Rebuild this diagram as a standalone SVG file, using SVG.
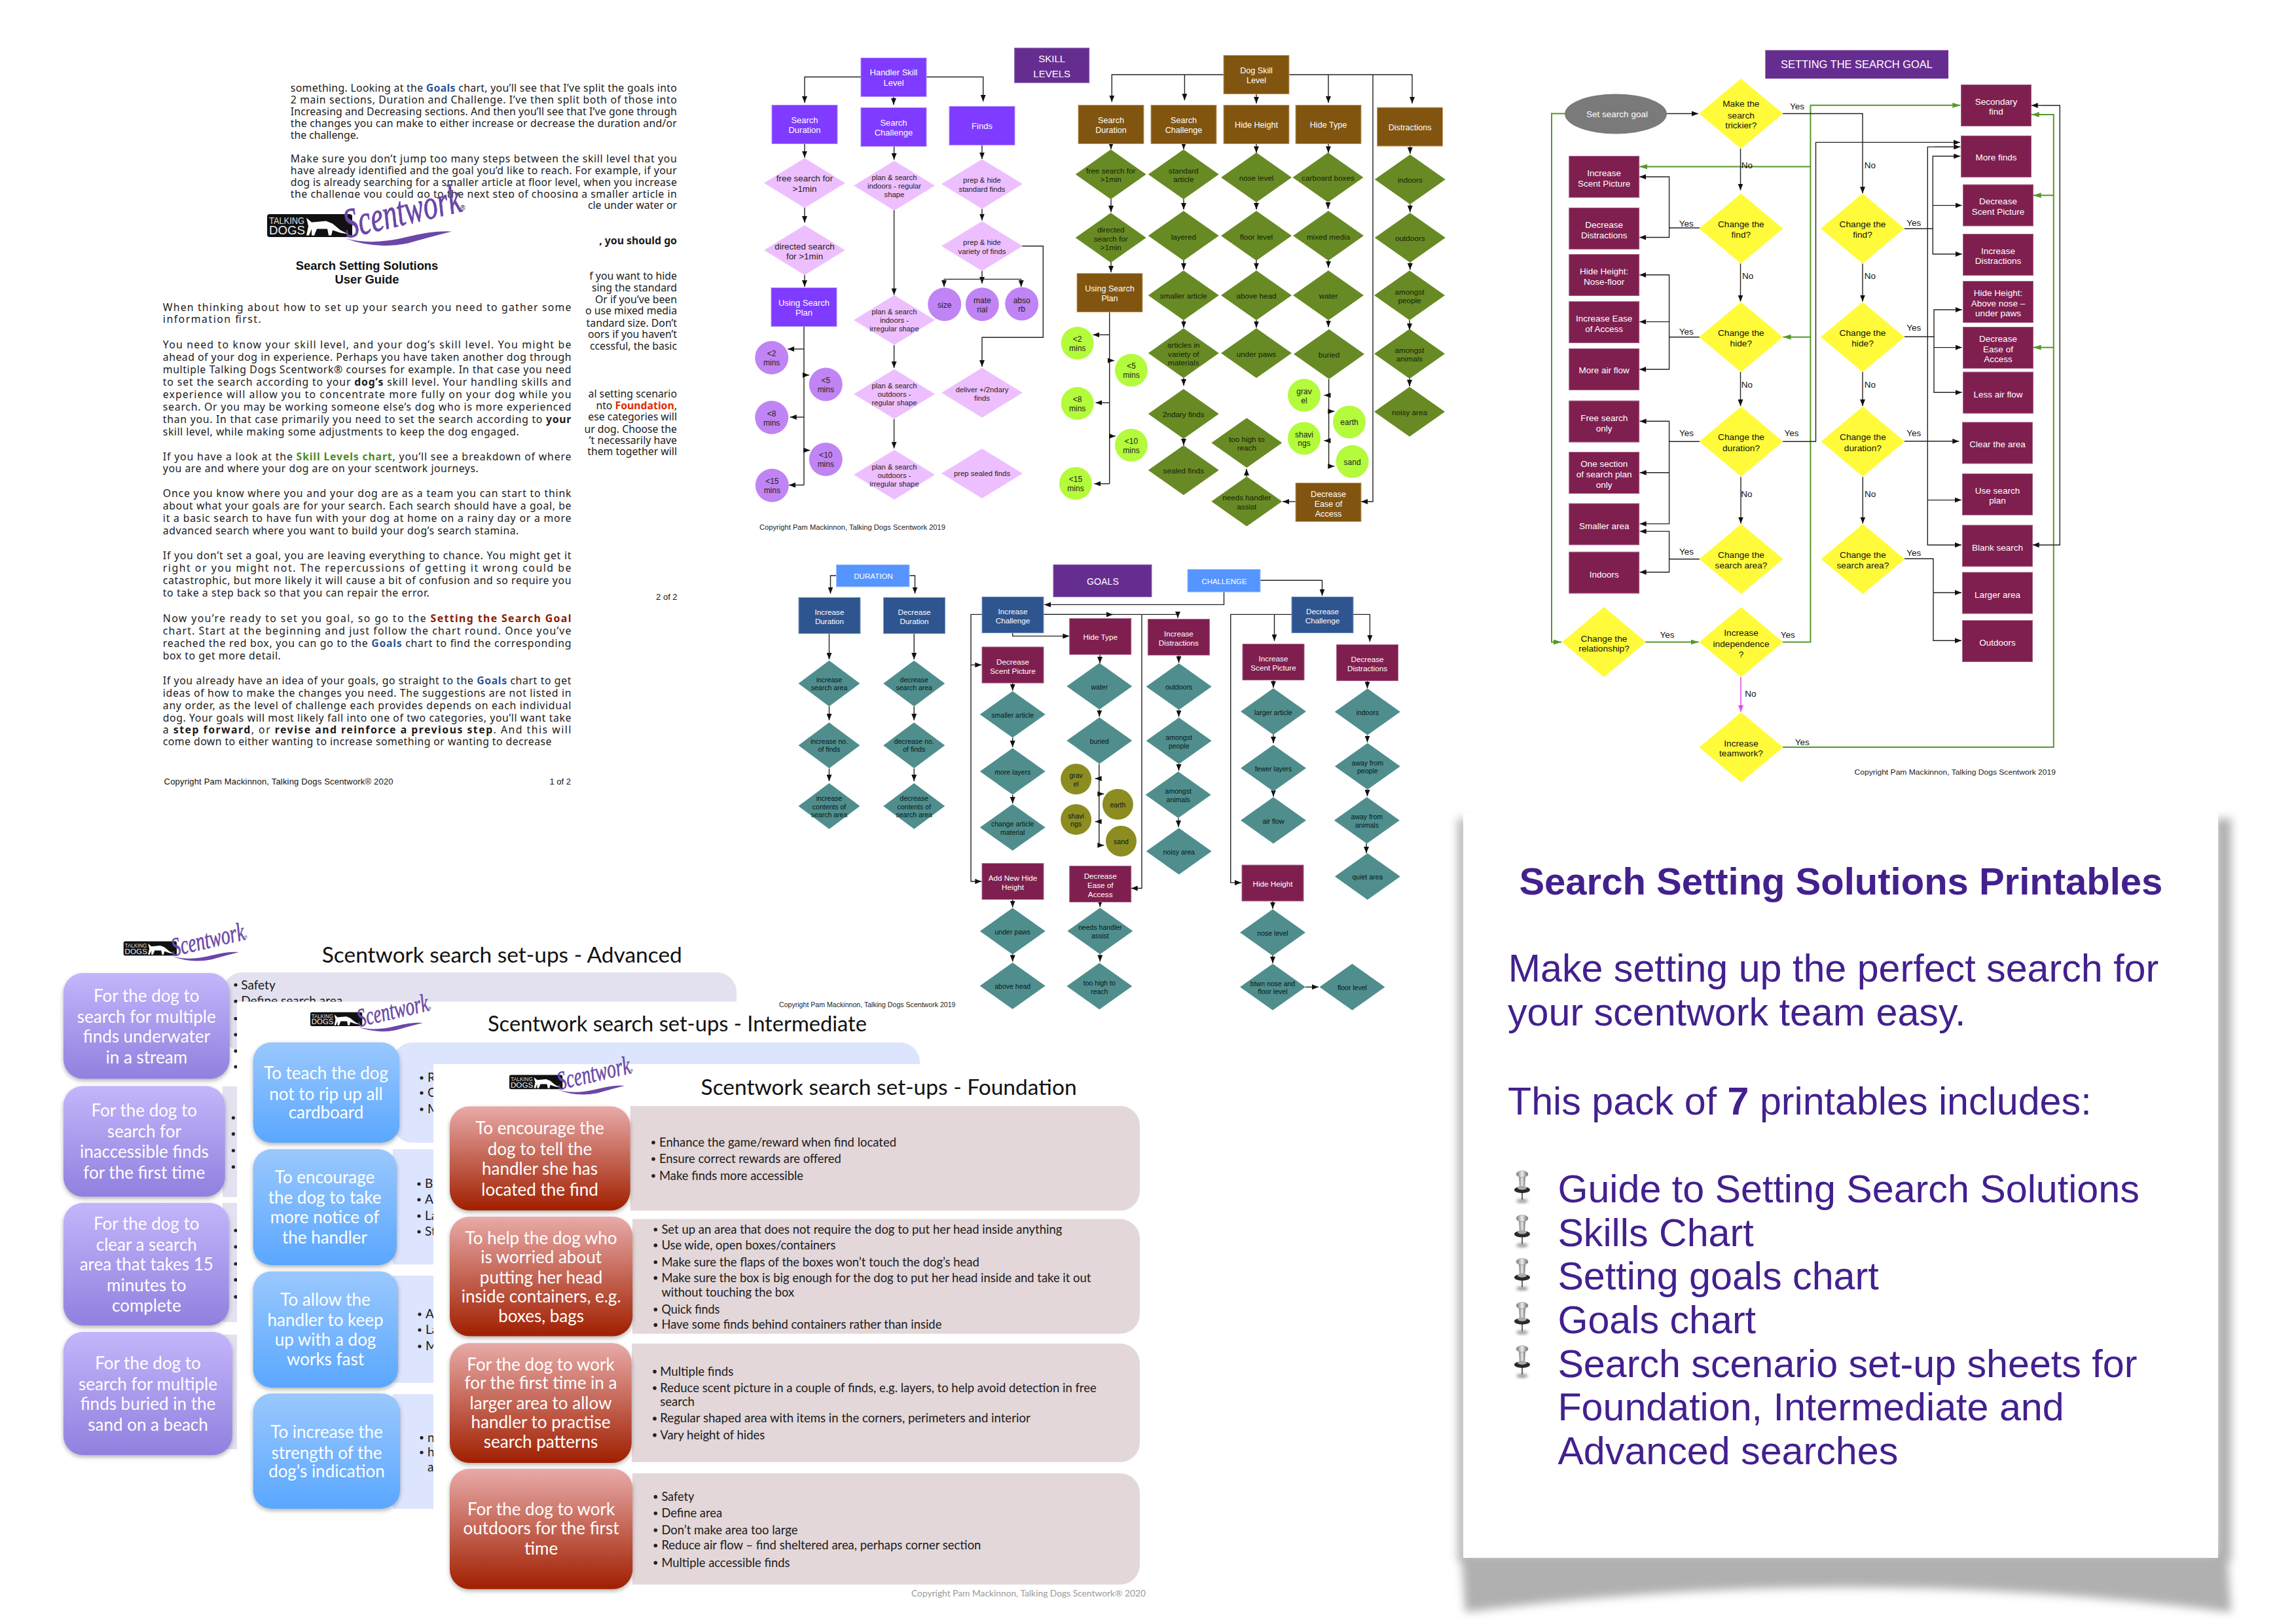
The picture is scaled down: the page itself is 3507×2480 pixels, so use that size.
<svg xmlns="http://www.w3.org/2000/svg" width="3507" height="2480" viewBox="0 0 3507 2480">
<style>
text{font-family:"Liberation Sans",Arial,sans-serif;text-anchor:middle;fill:#111}
.u{font-family:"Noto Sans","Liberation Sans",sans-serif;font-size:15.8px;text-anchor:start;fill:#1a1a1a}
.e{text-anchor:end}
.b{font-weight:700}
.w13{font-size:13px;fill:#fff}
.w12{font-size:12.6px;fill:#fff}
.d13{font-size:13.4px;fill:#222}
.d11{font-size:11.3px;fill:#222}
.d12{font-size:11.7px;fill:#141f08}
.ch{font-size:12px;fill:#222}
.w14{font-size:13.5px;fill:#fff}
.y14{font-size:13.7px;fill:#111}
.lb{font-size:13.5px;fill:#111}
.w11{font-size:11.7px;fill:#fff}
.t10{font-size:10.5px;fill:#061818}
.cp{font-size:11px;fill:#222}
.c{fill:none;stroke:#222;stroke-width:1.4}
.g{fill:none;stroke:#55982a;stroke-width:2}
.ca{font-family:Lato,"Liberation Sans",sans-serif}
.st{font-size:32px;fill:#111}
.pl{font-size:26px;fill:#fff}
.bl{font-size:19px;text-anchor:start;fill:#1a1a1a}
.pr{font-size:59.2px;text-anchor:start;fill:#43208e}
</style>
<defs>
<marker id="a" markerUnits="userSpaceOnUse" viewBox="0 0 10 8" markerWidth="10" markerHeight="8" refX="10" refY="4" orient="auto"><path d="M0 0L10 4L0 8Z" fill="#111"/></marker>
<marker id="ag" markerUnits="userSpaceOnUse" viewBox="0 0 12 8" markerWidth="12" markerHeight="8" refX="12" refY="4" orient="auto"><path d="M0 0L12 4L0 8Z" fill="#55982a"/></marker>
<marker id="am" markerUnits="userSpaceOnUse" viewBox="0 0 10 8" markerWidth="10" markerHeight="8" refX="10" refY="4" orient="auto"><path d="M0 0L10 4L0 8Z" fill="#e04cf0"/></marker>
<rect id="rH" x="-50" y="-29.5" width="100" height="59" fill="#7f3bff" stroke="#a98cf5"/>
<path id="dH" d="M-62 0L0-38L62 0L0 38Z" fill="#eebfff"/>
<circle id="cH" r="25.5" fill="#c084f5"/>
<rect id="rD" x="-50" y="-29.5" width="100" height="59" fill="#815510" stroke="#c9a06a"/>
<path id="dD" d="M-54 0L0-38L54 0L0 38Z" fill="#688a24"/>
<circle id="cD" r="25" fill="#b3fb3b"/>
<rect id="rG" x="-53.5" y="-31.5" width="107" height="63" fill="#7f1f50" stroke="#a8668a"/>
<path id="dG" d="M-64 0L0-53.5L64 0L0 53.5Z" fill="#fffb3a"/>
<rect id="rB" x="-47" y="-27.5" width="94" height="55" fill="#2f5590" stroke="#7f9bc8"/>
<rect id="rM" x="-47" y="-27.5" width="94" height="55" fill="#7f1f50" stroke="#a8668a"/>
<path id="dT" d="M-50 0L0-35.5L50 0L0 35.5Z" fill="#508e8e"/>
<path id="dT2" d="M-47 0L0-35L47 0L0 35Z" fill="#508e8e"/>
<circle id="cO" r="23.5" fill="#8d8c20"/>
<linearGradient id="gP" x1="0" y1="0" x2="0" y2="1"><stop offset="0" stop-color="#c4b5fb"/><stop offset="1" stop-color="#9180de"/></linearGradient>
<linearGradient id="gB" x1="0" y1="0" x2="0" y2="1"><stop offset="0" stop-color="#9ac8fd"/><stop offset="1" stop-color="#5aa7ff"/></linearGradient>
<linearGradient id="gR" x1="0" y1="0" x2="0" y2="1"><stop offset="0" stop-color="#e8aaa8"/><stop offset="1" stop-color="#a01f00"/></linearGradient>
<linearGradient id="gPin" x1="0" y1="0" x2="1" y2="0"><stop offset="0" stop-color="#777"/><stop offset=".5" stop-color="#eee"/><stop offset="1" stop-color="#666"/></linearGradient>
<filter id="sh" x="-10%" y="-10%" width="120%" height="125%"><feDropShadow dx="0" dy="3" stdDeviation="3" flood-color="#000" flood-opacity=".3"/></filter>
<filter id="bl" x="-20%" y="-20%" width="140%" height="140%"><feGaussianBlur stdDeviation="7"/></filter>
<filter id="bs" x="-50%" y="-50%" width="200%" height="200%"><feGaussianBlur stdDeviation="2"/></filter>
<g id="logo">
<rect x="0" y="21.4" width="130" height="35" rx="4" fill="#111"/>
<text x="3" y="36" font-size="14" textLength="54" lengthAdjust="spacingAndGlyphs" style="text-anchor:start;fill:#ddd">TALKING</text>
<text x="3" y="52" font-size="18" textLength="55" lengthAdjust="spacingAndGlyphs" style="text-anchor:start;fill:#eee">DOGS</text>
<path d="M60 27L68 34L90 32L100 36L112 46L124 52L112 50L100 46L98 54L94 54L92 44L76 44L72 54L68 54L68 44L64 54L60 54L63 40Z" fill="#fff"/>
<text transform="translate(122,58) rotate(-13)" font-size="64" textLength="182" lengthAdjust="spacingAndGlyphs" style="font-family:'Liberation Serif',serif;font-style:italic;text-anchor:start;fill:#6b47a8;stroke:#6b47a8;stroke-width:.9">Scentwork</text>
<path d="M118 58Q160 70 215 56Q255 46 282 48Q250 56 215 66Q165 76 118 58Z" fill="#6b47a8"/>
<text x="299" y="15" font-size="10" fill="#777">®</text>
</g>
<g id="pin">
<ellipse cx="0" cy="26" rx="9" ry="3" fill="#999" filter="url(#bs)"/>
<path d="M0 12V24" stroke="#444" stroke-width="1.6"/>
<path d="M-5 -14H5L4 6H-4Z" fill="url(#gPin)"/>
<ellipse cx="0" cy="-15" rx="9" ry="5" fill="url(#gPin)" stroke="#888" stroke-width=".6"/>
<ellipse cx="0" cy="9" rx="12" ry="5" fill="#2a2a2a"/>
<ellipse cx="0" cy="6" rx="7" ry="3" fill="#aaa"/>
</g>
</defs>
<rect width="3507" height="2480" fill="#fff"/>

<g id="guide-page-2">
<text class="u" x="443.8" y="139.5" textLength="590">something. Looking at the <tspan class="b" style="fill:#2f5597">Goals</tspan> chart, you’ll see that I’ve split the goals into</text>
<text class="u" x="443.8" y="157.7" textLength="590">2 main sections, Duration and Challenge. I’ve then split both of those into</text>
<text class="u" x="443.8" y="175.5" textLength="590">Increasing and Decreasing sections. And then you’ll see that I’ve gone through</text>
<text class="u" x="443.8" y="193.7" textLength="590">the changes you can make to either increase or decrease the duration and/or</text>
<text class="u" x="443.8" y="211.5" textLength="104">the challenge.</text>
<text class="u" x="443.8" y="247.5" textLength="590">Make sure you don’t jump too many steps between the skill level that you</text>
<text class="u" x="443.8" y="265.7" textLength="590">have already identified and the goal you’d like to reach. For example, if your</text>
<text class="u" x="443.8" y="283.5" textLength="590">dog is already searching for a smaller article at floor level, when you increase</text>
<text class="u" x="443.8" y="301.6" textLength="590">the challenge you could go to the next step of choosing a smaller article in</text>
<text class="u e" x="1034" y="319.4">cle under water or</text>
<text class="u e b" x="1034" y="372.8">, you should go</text>
<text class="u e" x="1034" y="426.6">f you want to hide</text>
<text class="u e" x="1034" y="444.8">sing the standard</text>
<text class="u e" x="1034" y="462.6">Or if you’ve been</text>
<text class="u e" x="1034" y="480.4">o use mixed media</text>
<text class="u e" x="1034" y="498.6">tandard size. Don’t</text>
<text class="u e" x="1034" y="516.4">oors if you haven’t</text>
<text class="u e" x="1034" y="534.4">ccessful, the basic</text>
<text class="u e" x="1034" y="606.8">al setting scenario</text>
<text class="u e" x="1034" y="624.6">nto  <tspan class="b" style="fill:#e02b00">Foundation</tspan>,</text>
<text class="u e" x="1034" y="642.4">ese categories will</text>
<text class="u e" x="1034" y="660.6">ur dog. Choose the</text>
<text class="u e" x="1034" y="677.6">’t necessarily have</text>
<text class="u e" x="1034" y="695.4">them together will</text>
<text x="1034.6" y="916" font-size="13" class="e">2 of 2</text>
</g>
<g id="guide-page-1">
<rect x="240" y="302" width="653" height="930" fill="#fff"/>
<use href="#logo" transform="translate(408,305.6)"/>
<text class="b" x="560.5" y="412" font-size="18.4">Search Setting Solutions</text>
<text class="b" x="560.5" y="433" font-size="18.4">User Guide</text>
<text class="u" x="248.8" y="475" textLength="623.6">When thinking about how to set up your search you need to gather some</text>
<text class="u" x="248.8" y="493" textLength="150">information first.</text>
<text class="u" x="248.8" y="532.2" textLength="623.6">You need to know your skill level, and your dog’s skill level. You might be</text>
<text class="u" x="248.8" y="551" textLength="623.6">ahead of your dog in experience. Perhaps you have taken another dog through</text>
<text class="u" x="248.8" y="570" textLength="623.6">multiple Talking Dogs Scentwork® courses for example. In that case you need</text>
<text class="u" x="248.8" y="589" textLength="623.6">to set the search according to your <tspan class="b">dog’s</tspan> skill level. Your handling skills and</text>
<text class="u" x="248.8" y="608" textLength="623.6">experience will allow you to concentrate more fully on your dog while you</text>
<text class="u" x="248.8" y="627" textLength="623.6">search. Or you may be working someone else’s dog who is more experienced</text>
<text class="u" x="248.8" y="646" textLength="623.6">than you. In that case primarily you need to set the search according to <tspan class="b">your</tspan></text>
<text class="u" x="248.8" y="665" textLength="544">skill level, while making some adjustments to keep the dog engaged.</text>
<text class="u" x="248.8" y="702.5" textLength="623.6">If you have a look at the <tspan class="b" style="fill:#4d8b1f">Skill Levels chart</tspan>, you’ll see a breakdown of where</text>
<text class="u" x="248.8" y="721" textLength="482">you are and where your dog are on your scentwork journeys.</text>
<text class="u" x="248.8" y="759" textLength="623.6">Once you know where you and your dog are as a team you can start to think</text>
<text class="u" x="248.8" y="778" textLength="623.6">about what your goals are for your search. Each search should have a goal, be</text>
<text class="u" x="248.8" y="797" textLength="623.6">it a basic search to have fun with your dog at home on a rainy day or a more</text>
<text class="u" x="248.8" y="816" textLength="543.5">advanced search where you want to build your dog’s search stamina.</text>
<text class="u" x="248.8" y="854" textLength="623.6">If you don’t set a goal, you are leaving everything to chance. You might get it</text>
<text class="u" x="248.8" y="873" textLength="623.6">right or you might not. The repercussions of getting it wrong could be</text>
<text class="u" x="248.8" y="892" textLength="623.6">catastrophic, but more likely it will cause a bit of confusion and so require you</text>
<text class="u" x="248.8" y="911" textLength="407">to take a step back so that you can repair the error.</text>
<text class="u" x="248.8" y="949.7" textLength="623.6">Now you’re ready to set you goal, so go to the <tspan class="b" style="fill:#8b1a00">Setting the Search Goal</tspan></text>
<text class="u" x="248.8" y="968.6" textLength="623.6">chart. Start at the beginning and just follow the chart round. Once you’ve</text>
<text class="u" x="248.8" y="987.6" textLength="623.6">reached the red box, you can go to the <tspan class="b" style="fill:#2f5597">Goals</tspan> chart to find the corresponding</text>
<text class="u" x="248.8" y="1006.6" textLength="180">box to get more detail.</text>
<text class="u" x="248.8" y="1044.7" textLength="623.6">If you already have an idea of your goals, go straight to the <tspan class="b" style="fill:#2f5597">Goals</tspan> chart to get</text>
<text class="u" x="248.8" y="1063.6" textLength="623.6">ideas of how to make the changes you need. The suggestions are not listed in</text>
<text class="u" x="248.8" y="1082.6" textLength="623.6">any order, as the level of challenge each provides depends on each individual</text>
<text class="u" x="248.8" y="1101.5" textLength="623.6">dog. Your goals will most likely fall into one of two categories, you’ll want take</text>
<text class="u" x="248.8" y="1119.8" textLength="623.6">a <tspan class="b">step forward</tspan>, or <tspan class="b">revise and reinforce a previous step</tspan>. And this will</text>
<text class="u" x="248.8" y="1138" textLength="593.6">come down to either wanting to increase something or wanting to decrease</text>
<text x="250.6" y="1198" font-size="13" textLength="350" style="text-anchor:start">Copyright Pam Mackinnon, Talking Dogs Scentwork® 2020</text>
<text x="872" y="1198" font-size="13" class="e">1 of 2</text>
</g>

<g id="sheet-advanced">
<use href="#logo" transform="translate(188.7,1424) scale(.625)"/>
<text class="ca st" x="766.8" y="1470" textLength="550" lengthAdjust="spacingAndGlyphs">Scentwork search set-ups - Advanced</text>
<rect x="340" y="1485" width="785" height="120" rx="30" fill="#e3e1ef"/>
<rect x="340" y="1659" width="22" height="169" fill="#e3e1ef"/>
<rect x="340" y="1837" width="22" height="182" fill="#e3e1ef"/>
<rect x="340" y="2038" width="22" height="175" fill="#e3e1ef"/>
<text class="ca bl" x="368.3" y="1511">Safety</text>
<circle cx="360" cy="1504" r="2.6" fill="#222"/>
<text class="ca bl" x="368.3" y="1535">Define search area</text>
<circle cx="360" cy="1529" r="2.6" fill="#222"/>
<g fill="#222"><circle cx="360" cy="1555.5" r="2.6"/><circle cx="360" cy="1580" r="2.6"/><circle cx="360" cy="1605" r="2.6"/><circle cx="360" cy="1629" r="2.6"/><circle cx="356.4" cy="1707" r="2.6"/><circle cx="356.4" cy="1731.7" r="2.6"/><circle cx="356.4" cy="1757" r="2.6"/><circle cx="356.4" cy="1782" r="2.6"/><circle cx="360" cy="1879" r="2.6"/><circle cx="360" cy="1904" r="2.6"/><circle cx="360" cy="1930" r="2.6"/><circle cx="360" cy="1954.4" r="2.6"/><circle cx="360" cy="1980.4" r="2.6"/></g>
<g id="adv-1"><rect x="96.8" y="1486" width="254" height="161.6" rx="30" fill="url(#gP)" filter="url(#sh)"/><text class="ca pl"><tspan x="223.8" y="1530">For the dog to</tspan><tspan x="223.8" y="1562">search for multiple</tspan><tspan x="223.8" y="1592">finds underwater</tspan><tspan x="223.8" y="1624">in a stream</tspan></text></g>
<g id="adv-2"><rect x="96.8" y="1658.5" width="247" height="169" rx="30" fill="url(#gP)" filter="url(#sh)"/><text class="ca pl"><tspan x="220.3" y="1705">For the dog to</tspan><tspan x="220.3" y="1737">search for</tspan><tspan x="220.3" y="1768">inaccessible finds</tspan><tspan x="220.3" y="1800">for the first time</tspan></text></g>
<g id="adv-3"><rect x="96.8" y="1837" width="253" height="187" rx="30" fill="url(#gP)" filter="url(#sh)"/><text class="ca pl"><tspan x="223.8" y="1878">For the dog to</tspan><tspan x="223.8" y="1910">clear a search</tspan><tspan x="223.8" y="1939.6">area that takes 15</tspan><tspan x="223.8" y="1971.6">minutes to</tspan><tspan x="223.8" y="2002.5">complete</tspan></text></g>
<g id="adv-4"><rect x="96.8" y="2034" width="258" height="188" rx="30" fill="url(#gP)" filter="url(#sh)"/><text class="ca pl"><tspan x="226" y="2091">For the dog to</tspan><tspan x="226" y="2123">search for multiple</tspan><tspan x="226" y="2152.6">finds buried in the</tspan><tspan x="226" y="2184.6">sand on a beach</tspan></text></g>
</g>

<g id="sheet-intermediate">
<rect x="362" y="1529.5" width="1060" height="790" fill="#fff"/>
<use href="#logo" transform="translate(474,1532.7) scale(.61)"/>
<text class="ca st" x="1034.5" y="1575" textLength="579" lengthAdjust="spacingAndGlyphs">Scentwork search set-ups - Intermediate</text>
<rect x="600" y="1592" width="805" height="153" rx="30" fill="#dce5fd"/>
<rect x="600" y="1755" width="62" height="176" fill="#dce5fd"/>
<rect x="600" y="1948" width="62" height="163.6" fill="#dce5fd"/>
<rect x="600" y="2129" width="62" height="175" fill="#dce5fd"/>
<g fill="#222">
<circle cx="644" cy="1646" r="2.6"/><circle cx="644" cy="1669" r="2.6"/><circle cx="644" cy="1694" r="2.6"/>
<circle cx="640" cy="1808" r="2.6"/><circle cx="640" cy="1832" r="2.6"/><circle cx="640" cy="1857" r="2.6"/><circle cx="640" cy="1881" r="2.6"/>
<circle cx="641" cy="2007" r="2.6"/><circle cx="641" cy="2031" r="2.6"/><circle cx="641" cy="2056" r="2.6"/>
<circle cx="644" cy="2195.6" r="2.6"/><circle cx="644" cy="2218" r="2.6"/>
<text class="ca bl" x="653" y="1652">R</text><text class="ca bl" x="653" y="1675">C</text><text class="ca bl" x="653" y="1700">M</text>
<text class="ca bl" x="649" y="1814">Bl</text><text class="ca bl" x="649" y="1838">Ar</text><text class="ca bl" x="649" y="1863">La</text><text class="ca bl" x="649" y="1887">St</text>
<text class="ca bl" x="650" y="2013">A</text><text class="ca bl" x="650" y="2037">La</text><text class="ca bl" x="650" y="2062">M</text>
<text class="ca bl" x="653" y="2201.6">n</text><text class="ca bl" x="653" y="2224">h</text><text class="ca bl" x="653" y="2247">a</text>
</g>
<g id="int-1"><rect x="386.6" y="1591.8" width="223.7" height="153.2" rx="28" fill="url(#gB)" filter="url(#sh)"/><text class="ca pl"><tspan x="498" y="1648">To teach the dog</tspan><tspan x="498" y="1679.5">not to rip up all</tspan><tspan x="498" y="1708">cardboard</tspan></text></g>
<g id="int-2"><rect x="386.6" y="1755" width="219.4" height="177" rx="28" fill="url(#gB)" filter="url(#sh)"/><text class="ca pl"><tspan x="496" y="1807.4">To encourage</tspan><tspan x="496" y="1838">the dog to take</tspan><tspan x="496" y="1868">more notice of</tspan><tspan x="496" y="1899">the handler</tspan></text></g>
<g id="int-3"><rect x="386.6" y="1941.4" width="221.4" height="177.6" rx="28" fill="url(#gB)" filter="url(#sh)"/><text class="ca pl"><tspan x="497" y="1994.4">To allow the</tspan><tspan x="497" y="2025">handler to keep</tspan><tspan x="497" y="2054.5">up with a dog</tspan><tspan x="497" y="2085.4">works fast</tspan></text></g>
<g id="int-4"><rect x="386.6" y="2128" width="224.4" height="176" rx="28" fill="url(#gB)" filter="url(#sh)"/><text class="ca pl"><tspan x="499" y="2196">To increase the</tspan><tspan x="499" y="2227.5">strength of the</tspan><tspan x="499" y="2256">dog's indication</tspan></text></g>
</g>

<g id="sheet-foundation">
<rect x="662" y="1625" width="1100" height="825" fill="#fff"/>
<use href="#logo" transform="translate(778,1628) scale(.625)"/>
<text class="ca st" x="1357.6" y="1672" textLength="574" lengthAdjust="spacingAndGlyphs">Scentwork search set-ups - Foundation</text>
<g fill="#e3d7d9">
<path d="M962.7 1689H1711a30 30 0 0 1 30 30V1818.7a30 30 0 0 1-30 30H962.7Z"/>
<path d="M966 1861.6H1711a30 30 0 0 1 30 30V2006.8a30 30 0 0 1-30 30H966Z"/>
<path d="M965 2051.8H1711a30 30 0 0 1 30 30V2202.8a30 30 0 0 1-30 30H965Z"/>
<path d="M966 2250H1711a30 30 0 0 1 30 30V2389.8a30 30 0 0 1-30 30H966Z"/>
</g>
<g id="fnd-1"><rect x="687" y="1689.6" width="275.7" height="159" rx="30" fill="url(#gR)" filter="url(#sh)"/><text class="ca pl"><tspan x="824.5" y="1732">To encourage the</tspan><tspan x="824.5" y="1764">dog to tell the</tspan><tspan x="824.5" y="1794">handler she has</tspan><tspan x="824.5" y="1825.7">located the find</tspan></text></g>
<g id="fnd-2"><rect x="687" y="1857.9" width="279.2" height="182.6" rx="30" fill="url(#gR)" filter="url(#sh)"/><text class="ca pl"><tspan x="826.6" y="1899.6">To help the dog who</tspan><tspan x="826.6" y="1928.5">is worried about</tspan><tspan x="826.6" y="1959.6">putting her head</tspan><tspan x="826.6" y="1988.5">inside containers, e.g.</tspan><tspan x="826.6" y="2018.5">boxes, bags</tspan></text></g>
<g id="fnd-3"><rect x="687" y="2051" width="277.8" height="183" rx="30" fill="url(#gR)" filter="url(#sh)"/><text class="ca pl"><tspan x="826" y="2092.5">For the dog to work</tspan><tspan x="826" y="2121.4">for the first time in a</tspan><tspan x="826" y="2152.4">larger area to allow</tspan><tspan x="826" y="2181.4">handler to practise</tspan><tspan x="826" y="2211.4">search patterns</tspan></text></g>
<g id="fnd-4"><rect x="687" y="2243" width="279.2" height="183.8" rx="30" fill="url(#gR)" filter="url(#sh)"/><text class="ca pl"><tspan x="826.6" y="2314.3">For the dog to work</tspan><tspan x="826.6" y="2343">outdoors for the first</tspan><tspan x="826.6" y="2374">time</tspan></text></g>
<g fill="#222">
<circle cx="998" cy="1744.8" r="2.8"/><circle cx="998" cy="1770" r="2.8"/><circle cx="998" cy="1795.7" r="2.8"/>
<circle cx="1001.3" cy="1877.7" r="2.8"/><circle cx="1001.3" cy="1901.8" r="2.8"/><circle cx="1001.3" cy="1927.5" r="2.8"/><circle cx="1001.3" cy="1951.6" r="2.8"/><circle cx="1001.3" cy="1999.8" r="2.8"/><circle cx="1001.3" cy="2023.4" r="2.8"/>
<circle cx="1000" cy="2094.6" r="2.8"/><circle cx="1000" cy="2119.8" r="2.8"/><circle cx="1000" cy="2166.4" r="2.8"/><circle cx="1000" cy="2191.6" r="2.8"/>
<circle cx="1001.3" cy="2285.9" r="2.8"/><circle cx="1001.3" cy="2311" r="2.8"/><circle cx="1001.3" cy="2336.8" r="2.8"/><circle cx="1001.3" cy="2360.3" r="2.8"/><circle cx="1001.3" cy="2386.6" r="2.8"/>
</g>
<g>
<text class="ca bl" x="1007" y="1751" textLength="362" lengthAdjust="spacingAndGlyphs">Enhance the game/reward when find located</text>
<text class="ca bl" x="1007" y="1776" textLength="277.8" lengthAdjust="spacingAndGlyphs">Ensure correct rewards are offered</text>
<text class="ca bl" x="1007" y="1802" textLength="220" lengthAdjust="spacingAndGlyphs">Make finds more accessible</text>
<text class="ca bl" x="1010.4" y="1884" textLength="612" lengthAdjust="spacingAndGlyphs">Set up an area that does not require the dog to put her head inside anything</text>
<text class="ca bl" x="1010.4" y="1908" textLength="266" lengthAdjust="spacingAndGlyphs">Use wide, open boxes/containers</text>
<text class="ca bl" x="1010.4" y="1933.5" textLength="485.4" lengthAdjust="spacingAndGlyphs">Make sure the flaps of the boxes won’t touch the dog’s head</text>
<text class="ca bl" x="1010.4" y="1957.6" textLength="656" lengthAdjust="spacingAndGlyphs">Make sure the box is big enough for the dog to put her head inside and take it out</text>
<text class="ca bl" x="1010.4" y="1979.6" textLength="202.7" lengthAdjust="spacingAndGlyphs">without touching the box</text>
<text class="ca bl" x="1010.4" y="2005.8" textLength="89" lengthAdjust="spacingAndGlyphs">Quick finds</text>
<text class="ca bl" x="1010.4" y="2029.4" textLength="428" lengthAdjust="spacingAndGlyphs">Have some finds behind containers rather than inside</text>
<text class="ca bl" x="1008.3" y="2100.6" textLength="112" lengthAdjust="spacingAndGlyphs">Multiple finds</text>
<text class="ca bl" x="1008.3" y="2125.8" textLength="666.4" lengthAdjust="spacingAndGlyphs">Reduce scent picture in a couple of finds, e.g. layers, to help avoid detection in free</text>
<text class="ca bl" x="1008.3" y="2146.7" textLength="52.6" lengthAdjust="spacingAndGlyphs">search</text>
<text class="ca bl" x="1008.3" y="2172.4" textLength="565.4" lengthAdjust="spacingAndGlyphs">Regular shaped area with items in the corners, perimeters and interior</text>
<text class="ca bl" x="1008.3" y="2197.6" textLength="160" lengthAdjust="spacingAndGlyphs">Vary height of hides</text>
<text class="ca bl" x="1010.4" y="2291.9" textLength="50" lengthAdjust="spacingAndGlyphs">Safety</text>
<text class="ca bl" x="1010.4" y="2317" textLength="92.6" lengthAdjust="spacingAndGlyphs">Define area</text>
<text class="ca bl" x="1010.4" y="2342.8" textLength="208" lengthAdjust="spacingAndGlyphs">Don’t make area too large</text>
<text class="ca bl" x="1010.4" y="2366.3" textLength="488" lengthAdjust="spacingAndGlyphs">Reduce air flow – find sheltered area, perhaps corner section</text>
<text class="ca bl" x="1010.4" y="2392.6" textLength="196" lengthAdjust="spacingAndGlyphs">Multiple accessible finds</text>
</g>
<text class="ca" x="1392" y="2438" font-size="14" textLength="358" lengthAdjust="spacingAndGlyphs" style="text-anchor:start;fill:#9a9a9a">Copyright Pam Mackinnon, Talking Dogs Scentwork® 2020</text>
</g>

<g id="skill-connectors">
<g class="c">
<path d="M1315 117.5H1229V157" marker-end="url(#a)"/>
<path d="M1415 117.5H1501.7V155" marker-end="url(#a)"/>
<path d="M1365 147V160" marker-end="url(#a)"/>
<path d="M1229 219.6V240.7" marker-end="url(#a)"/>
<path d="M1229 317V340" marker-end="url(#a)"/>
<path d="M1229 420V438" marker-end="url(#a)"/>
<path d="M1228 498.5V740.7"/>
<path d="M1228 533H1203.3" marker-end="url(#a)"/><path d="M1228 572.7H1236" marker-end="url(#a)"/><path d="M1228 637H1206.7" marker-end="url(#a)"/><path d="M1228 687.6H1237.3" marker-end="url(#a)"/><path d="M1228 740.7H1205" marker-end="url(#a)"/>
<path d="M1365.6 223.5V244" marker-end="url(#a)"/><path d="M1365.6 321V450.4" marker-end="url(#a)"/><path d="M1365.6 527V562" marker-end="url(#a)"/><path d="M1365.6 640V684.7" marker-end="url(#a)"/>
<path d="M1500 221.6V242.7" marker-end="url(#a)"/><path d="M1500 319V336.5" marker-end="url(#a)"/><path d="M1500 413.6V433" marker-end="url(#a)"/>
<path d="M1442 426.4H1559.7"/>
<path d="M1442 426.4V438" marker-end="url(#a)"/><path d="M1559.7 426.4V438" marker-end="url(#a)"/>
<path d="M1561 375.8H1593.3V515.2H1500V560" marker-end="url(#a)"/>
<path d="M1869 114H1698.3V155.8" marker-end="url(#a)"/><path d="M1809.4 114V153.3" marker-end="url(#a)"/><path d="M1919 143.5V158" marker-end="url(#a)"/>
<path d="M1969 114H2157V158" marker-end="url(#a)"/><path d="M2029 114V157" marker-end="url(#a)"/><path d="M2097 114V766H2079" marker-end="url(#a)"/>
<path d="M1697 219.6V228" marker-end="url(#a)"/><path d="M1697 304V324" marker-end="url(#a)"/><path d="M1697 400V416" marker-end="url(#a)"/>
<path d="M1808 219.6V228" marker-end="url(#a)"/><path d="M1808 304V320" marker-end="url(#a)"/><path d="M1808 397V412" marker-end="url(#a)"/><path d="M1808 489V500.5" marker-end="url(#a)"/><path d="M1808 577V589" marker-end="url(#a)"/><path d="M1808 669.5V680" marker-end="url(#a)"/>
<path d="M1919 219.6V233.4" marker-end="url(#a)"/><path d="M1919 309V320" marker-end="url(#a)"/><path d="M1919 397V411.6" marker-end="url(#a)"/><path d="M1919 489V500.5" marker-end="url(#a)"/>
<path d="M2029 219.6V233.4" marker-end="url(#a)"/><path d="M2028.5 309V319" marker-end="url(#a)"/><path d="M2029 397V408.7" marker-end="url(#a)"/><path d="M2029 489V499.5" marker-end="url(#a)"/>
<path d="M2153.8 223V235" marker-end="url(#a)"/><path d="M2153.8 312V324" marker-end="url(#a)"/><path d="M2153.8 401V412" marker-end="url(#a)"/><path d="M2153 489V504" marker-end="url(#a)"/><path d="M2153 578V590" marker-end="url(#a)"/>
<path d="M1694.7 476.5V738.7"/>
<path d="M1694.7 511.3H1669.4" marker-end="url(#a)"/><path d="M1694.7 550.6H1702" marker-end="url(#a)"/><path d="M1694.7 615H1673.4" marker-end="url(#a)"/><path d="M1694.7 666H1703.8" marker-end="url(#a)"/><path d="M1694.7 738.7H1671.4" marker-end="url(#a)"/>
<path d="M2029.6 579V712"/>
<path d="M2029.6 603.6H2022.5" marker-end="url(#a)"/><path d="M2029.6 628.2H2038.3" marker-end="url(#a)"/><path d="M2029.6 673H2022.5" marker-end="url(#a)"/><path d="M2029.6 712H2038.3" marker-end="url(#a)"/>
<path d="M1979 766H1959" marker-end="url(#a)"/><path d="M1904 728V716" marker-end="url(#a)"/>
</g>
</g>

<g id="skill-title"><rect x="1549.7" y="73.3" width="114" height="53" fill="#662d91" stroke="#8a63ad"/><text font-size="15" style="fill:#fff"><tspan x="1606.7" y="95">SKILL</tspan><tspan x="1606.7" y="118">LEVELS</tspan></text></g>

<g id="handler-nodes">
<g id="h1" transform="translate(1365,118)"><use href="#rH"/><text class="w13"><tspan x="0" y="-3">Handler Skill</tspan><tspan x="0" y="13">Level</tspan></text></g>
<g id="h2" transform="translate(1229,190)"><use href="#rH"/><text class="w13"><tspan x="0" y="-2">Search</tspan><tspan x="0" y="13">Duration</tspan></text></g>
<g id="h3" transform="translate(1365,194)"><use href="#rH"/><text class="w13"><tspan x="0" y="-2">Search</tspan><tspan x="0" y="13">Challenge</tspan></text></g>
<g id="h4" transform="translate(1500,192)"><use href="#rH"/><text class="w13"><tspan x="0" y="5">Finds</tspan></text></g>
<g id="h5" transform="translate(1228,469)"><use href="#rH"/><text class="w13"><tspan x="0" y="-2">Using Search</tspan><tspan x="0" y="13">Plan</tspan></text></g>
<g id="h6" transform="translate(1229,279.5)"><use href="#dH"/><text class="d13"><tspan x="0" y="-2.5">free search for</tspan><tspan x="0" y="13">&gt;1min</tspan></text></g>
<g id="h7" transform="translate(1229,382)"><use href="#dH"/><text class="d13"><tspan x="0" y="-1.5">directed search</tspan><tspan x="0" y="13.5">for &gt;1min</tspan></text></g>
<g id="h8" transform="translate(1366,283.5)"><use href="#dH"/><text class="d11"><tspan x="0" y="-8.3">plan &amp; search</tspan><tspan x="0" y="4.5">indoors -  regular</tspan><tspan x="0" y="17.8">shape</tspan></text></g>
<g id="h9" transform="translate(1366,488.7)"><use href="#dH"/><text class="d11"><tspan x="0" y="-8.3">plan &amp; search</tspan><tspan x="0" y="4.5">indoors -</tspan><tspan x="0" y="17.8">irregular shape</tspan></text></g>
<g id="h10" transform="translate(1366,601.7)"><use href="#dH"/><text class="d11"><tspan x="0" y="-8.3">plan &amp; search</tspan><tspan x="0" y="4.5">outdoors -</tspan><tspan x="0" y="17.8">regular shape</tspan></text></g>
<g id="h11" transform="translate(1366,725)"><use href="#dH"/><text class="d11"><tspan x="0" y="-8.3">plan &amp; search</tspan><tspan x="0" y="4.5">outdoors -</tspan><tspan x="0" y="17.8">irregular shape</tspan></text></g>
<g id="h12" transform="translate(1500,281)"><use href="#dH"/><text class="d11"><tspan x="0" y="-2">prep &amp; hide</tspan><tspan x="0" y="12">standard finds</tspan></text></g>
<g id="h13" transform="translate(1500,375.8)"><use href="#dH"/><text class="d11"><tspan x="0" y="-2">prep &amp; hide</tspan><tspan x="0" y="12">variety of finds</tspan></text></g>
<g id="h14" transform="translate(1500,599.7)"><use href="#dH"/><text class="d11"><tspan x="0" y="-1">deliver +/2ndary</tspan><tspan x="0" y="12">finds</tspan></text></g>
<g id="h15" transform="translate(1500,723)"><use href="#dH"/><text class="d11"><tspan x="0" y="4">prep sealed finds</tspan></text></g>
<g id="h16" transform="translate(1442.7,464.7)"><use href="#cH"/><text class="ch"><tspan x="0" y="5">size</tspan></text></g>
<g id="h17" transform="translate(1500.3,464.7)"><use href="#cH"/><text class="ch"><tspan x="0" y="-1.5">mate</tspan><tspan x="0" y="12">rial</tspan></text></g>
<g id="h18" transform="translate(1560.7,464)"><use href="#cH"/><text class="ch"><tspan x="0" y="-1.5">abso</tspan><tspan x="0" y="12">rb</tspan></text></g>
<g id="h19" transform="translate(1178.7,546.2)"><use href="#cH"/><text class="ch"><tspan x="0" y="-2">&lt;2</tspan><tspan x="0" y="12">mins</tspan></text></g>
<g id="h20" transform="translate(1261.3,587)"><use href="#cH"/><text class="ch"><tspan x="0" y="-2">&lt;5</tspan><tspan x="0" y="12">mins</tspan></text></g>
<g id="h21" transform="translate(1178.7,637.5)"><use href="#cH"/><text class="ch"><tspan x="0" y="-2">&lt;8</tspan><tspan x="0" y="12">mins</tspan></text></g>
<g id="h22" transform="translate(1261.3,701.4)"><use href="#cH"/><text class="ch"><tspan x="0" y="-2">&lt;10</tspan><tspan x="0" y="12">mins</tspan></text></g>
<g id="h23" transform="translate(1179.3,741.2)"><use href="#cH"/><text class="ch"><tspan x="0" y="-2">&lt;15</tspan><tspan x="0" y="12">mins</tspan></text></g>
<text class="cp" x="1160" y="809" style="text-anchor:start" textLength="284" lengthAdjust="spacingAndGlyphs">Copyright Pam Mackinnon, Talking Dogs Scentwork 2019</text>
</g>

<g id="dog-nodes">
<g id="k1" transform="translate(1919,114)"><use href="#rD"/><text class="w12"><tspan x="0" y="-2">Dog Skill</tspan><tspan x="0" y="13">Level</tspan></text></g>
<g id="k2" transform="translate(1697,190)"><use href="#rD"/><text class="w12"><tspan x="0" y="-2">Search</tspan><tspan x="0" y="13">Duration</tspan></text></g>
<g id="k3" transform="translate(1808,190)"><use href="#rD"/><text class="w12"><tspan x="0" y="-2">Search</tspan><tspan x="0" y="13">Challenge</tspan></text></g>
<g id="k4" transform="translate(1919,190)"><use href="#rD"/><text class="w12"><tspan x="0" y="5">Hide Height</tspan></text></g>
<g id="k5" transform="translate(2029,190)"><use href="#rD"/><text class="w12"><tspan x="0" y="5">Hide Type</tspan></text></g>
<g id="k6" transform="translate(2153.6,193.6)"><use href="#rD"/><text class="w12"><tspan x="0" y="5">Distractions</tspan></text></g>
<g id="k7" transform="translate(1695,447)"><use href="#rD"/><text class="w12"><tspan x="0" y="-2">Using Search</tspan><tspan x="0" y="13">Plan</tspan></text></g>
<g id="k8" transform="translate(2029,767)"><use href="#rD"/><text class="w12"><tspan x="0" y="-8">Decrease</tspan><tspan x="0" y="7">Ease of</tspan><tspan x="0" y="22">Access</tspan></text></g>
<g id="k9" transform="translate(1696.7,266.3)"><use href="#dD"/><text class="d12"><tspan x="0" y="-1.5">free search for</tspan><tspan x="0" y="12">&gt;1min</tspan></text></g>
<g id="k10" transform="translate(1696.7,363)"><use href="#dD"/><text class="d12"><tspan x="0" y="-8">directed</tspan><tspan x="0" y="5.5">search for</tspan><tspan x="0" y="19">&gt;1min</tspan></text></g>
<g id="k11" transform="translate(1807.8,266.3)"><use href="#dD"/><text class="d12"><tspan x="0" y="-1.5">standard</tspan><tspan x="0" y="12">article</tspan></text></g>
<g id="k12" transform="translate(1807.8,360)"><use href="#dD"/><text class="d12"><tspan x="0" y="6">layered</tspan></text></g>
<g id="k13" transform="translate(1807.8,451)"><use href="#dD"/><text class="d12"><tspan x="0" y="5">smaller article</tspan></text></g>
<g id="k14" transform="translate(1807.8,539.3)"><use href="#dD"/><text class="d12"><tspan x="0" y="-8">articles in</tspan><tspan x="0" y="5.5">variety of</tspan><tspan x="0" y="19">materials</tspan></text></g>
<g id="k15" transform="translate(1807.8,632)"><use href="#dD"/><text class="d12"><tspan x="0" y="5">2ndary finds</tspan></text></g>
<g id="k16" transform="translate(1807.8,718)"><use href="#dD"/><text class="d12"><tspan x="0" y="5">sealed finds</tspan></text></g>
<g id="k17" transform="translate(1919,271)"><use href="#dD"/><text class="d12"><tspan x="0" y="5">nose level</tspan></text></g>
<g id="k18" transform="translate(1919,360)"><use href="#dD"/><text class="d12"><tspan x="0" y="6">floor level</tspan></text></g>
<g id="k19" transform="translate(1919,451)"><use href="#dD"/><text class="d12"><tspan x="0" y="5">above head</tspan></text></g>
<g id="k20" transform="translate(1919,539.3)"><use href="#dD"/><text class="d12"><tspan x="0" y="6">under paws</tspan></text></g>
<g id="k21" transform="translate(2028.5,271)"><use href="#dD"/><text class="d12"><tspan x="0" y="5">carboard boxes</tspan></text></g>
<g id="k22" transform="translate(2029,360)"><use href="#dD"/><text class="d12"><tspan x="0" y="6">mixed media</tspan></text></g>
<g id="k23" transform="translate(2029,451)"><use href="#dD"/><text class="d12"><tspan x="0" y="5">water</tspan></text></g>
<g id="k24" transform="translate(2030,540.8)"><use href="#dD"/><text class="d12"><tspan x="0" y="5">buried</tspan></text></g>
<g id="k25" transform="translate(2153.8,274)"><use href="#dD"/><text class="d12"><tspan x="0" y="5">indoors</tspan></text></g>
<g id="k26" transform="translate(2153.8,363)"><use href="#dD"/><text class="d12"><tspan x="0" y="5">outdoors</tspan></text></g>
<g id="k27" transform="translate(2153,451)"><use href="#dD"/><text class="d12"><tspan x="0" y="-1.5">amongst</tspan><tspan x="0" y="12">people</tspan></text></g>
<g id="k28" transform="translate(2153,540.3)"><use href="#dD"/><text class="d12"><tspan x="0" y="-1.5">amongst</tspan><tspan x="0" y="12">animals</tspan></text></g>
<g id="k29" transform="translate(2153,628.7)"><use href="#dD"/><text class="d12"><tspan x="0" y="5">noisy area</tspan></text></g>
<g id="k30" transform="translate(1904.3,676.3)"><use href="#dD"/><text class="d12"><tspan x="0" y="-1.5">too high to</tspan><tspan x="0" y="12">reach</tspan></text></g>
<g id="k31" transform="translate(1904.3,765.7)"><use href="#dD"/><text class="d12"><tspan x="0" y="-1.5">needs handler</tspan><tspan x="0" y="12">assist</tspan></text></g>
<g id="k32" transform="translate(1645.7,524)"><use href="#cD"/><text class="ch"><tspan x="0" y="-2">&lt;2</tspan><tspan x="0" y="12">mins</tspan></text></g>
<g id="k33" transform="translate(1728,565.3)"><use href="#cD"/><text class="ch"><tspan x="0" y="-2">&lt;5</tspan><tspan x="0" y="12">mins</tspan></text></g>
<g id="k34" transform="translate(1645.7,616)"><use href="#cD"/><text class="ch"><tspan x="0" y="-2">&lt;8</tspan><tspan x="0" y="12">mins</tspan></text></g>
<g id="k35" transform="translate(1728,679.8)"><use href="#cD"/><text class="ch"><tspan x="0" y="-2">&lt;10</tspan><tspan x="0" y="12">mins</tspan></text></g>
<g id="k36" transform="translate(1643,738.2)"><use href="#cD"/><text class="ch"><tspan x="0" y="-2">&lt;15</tspan><tspan x="0" y="12">mins</tspan></text></g>
<g id="k37" transform="translate(1992,603.6)"><use href="#cD"/><text class="ch"><tspan x="0" y="-1.5">grav</tspan><tspan x="0" y="12">el</tspan></text></g>
<g id="k38" transform="translate(2061,644.4)"><use href="#cD"/><text class="ch"><tspan x="0" y="5">earth</tspan></text></g>
<g id="k39" transform="translate(1992,669.4)"><use href="#cD"/><text class="ch"><tspan x="0" y="-1.5">shavi</tspan><tspan x="0" y="12">ngs</tspan></text></g>
<g id="k40" transform="translate(2065.6,704.8)"><use href="#cD"/><text class="ch"><tspan x="0" y="5">sand</tspan></text></g>
</g>

<g id="goal-chart-connectors">
<path class="g" d="M2390 173.5H2370V980.5H2385" marker-end="url(#ag)"/>
<path class="g" d="M2723 980.5H2765.4V160.8H2994.3" marker-end="url(#ag)"/>
<path class="g" d="M2765.4 254.5H2504.3" marker-end="url(#ag)"/>
<path class="g" d="M2765.4 514.7H2723.5" marker-end="url(#ag)"/>
<path class="g" d="M2513 980.5H2594.6" marker-end="url(#ag)"/>
<path class="g" d="M2723 1141H3136.8V175H3102.7" marker-end="url(#ag)"/>
<path class="g" d="M3136.8 298.3H3105.7" marker-end="url(#ag)"/>
<path class="g" d="M3136.8 530.6H3105.7" marker-end="url(#ag)"/>
<path d="M2659 1034V1087" fill="none" stroke="#e04cf0" stroke-width="1.6" marker-end="url(#am)"/>
<g class="c">
<path d="M2546 173.5H2594" marker-end="url(#a)"/>
<path d="M2723 173.5H2845V295.3" marker-end="url(#a)"/>
<path d="M2658.5 227V290.5" marker-end="url(#a)"/>
<path d="M2723 674.3H2773.5V217.4H2994" marker-end="url(#a)"/>
<path d="M2596 348H2549.6V270H2504.3" marker-end="url(#a)"/><path d="M2549.6 348V362.5H2504.3" marker-end="url(#a)"/>
<path d="M2658.5 402.4V460.5" marker-end="url(#a)"/>
<path d="M2596 514.7H2549.6V419.8H2504.3" marker-end="url(#a)"/><path d="M2549.6 491.4H2504.3" marker-end="url(#a)"/><path d="M2549.6 514.7V564H2504.3" marker-end="url(#a)"/>
<path d="M2658.5 568V620" marker-end="url(#a)"/>
<path d="M2596 674.3H2549.6V643.3H2504.6" marker-end="url(#a)"/><path d="M2549.6 674.3V799.9H2504.6" marker-end="url(#a)"/><path d="M2549.6 721.8H2504.6" marker-end="url(#a)"/>
<path d="M2659 728.3V799.5" marker-end="url(#a)"/>
<path d="M2596 853.8H2549.6V811.4H2504.6" marker-end="url(#a)"/><path d="M2549.6 853.8V873.7H2504.6" marker-end="url(#a)"/>
<path d="M2845 402.4V460.5" marker-end="url(#a)"/><path d="M2845 568V620" marker-end="url(#a)"/><path d="M2845.3 728.3V799.5" marker-end="url(#a)"/>
<path d="M2909 349.3H2952.3V238.5H2994.3" marker-end="url(#a)"/><path d="M2952.3 313.6H2996.7" marker-end="url(#a)"/><path d="M2952.3 349.3V388H2996.7" marker-end="url(#a)"/>
<path d="M2909 514.2H2954V473H2996.7" marker-end="url(#a)"/><path d="M2954 530.6H2996.7" marker-end="url(#a)"/><path d="M2954 514.2V599.3H2996.7" marker-end="url(#a)"/>
<path d="M2909 673.8H2992.3" marker-end="url(#a)"/><path d="M2994.3 224.4H2944.3V832.2H2996" marker-end="url(#a)"/>
<path d="M2955 224.4H2994.3" marker-end="url(#a)"/><path d="M2944.3 763.6H2996" marker-end="url(#a)"/>
<path d="M2909 853.3H2953V978.3H2996" marker-end="url(#a)"/><path d="M2953 905H2996" marker-end="url(#a)"/>
<path d="M3120 161H3146.3V832.2H3104.7" marker-end="url(#a)"/>
<path d="M3120 161H3102.7" marker-end="url(#a)"/>
</g>
</g>

<g id="goal-chart-labels">
<text class="lb"><tspan x="2745" y="167">Yes</tspan></text><text class="lb"><tspan x="2668.5" y="257">No</tspan></text><text class="lb"><tspan x="2575.7" y="346">Yes</tspan></text><text class="lb"><tspan x="2669.6" y="426">No</tspan></text><text class="lb"><tspan x="2575.7" y="511">Yes</tspan></text><text class="lb"><tspan x="2668.5" y="592">No</tspan></text><text class="lb"><tspan x="2576" y="666">Yes</tspan></text><text class="lb"><tspan x="2736.6" y="666">Yes</tspan></text><text class="lb"><tspan x="2668" y="759">No</tspan></text><text class="lb"><tspan x="2576" y="847">Yes</tspan></text><text class="lb"><tspan x="2546.4" y="974">Yes</tspan></text><text class="lb"><tspan x="2730.7" y="974">Yes</tspan></text><text class="lb"><tspan x="2674" y="1064">No</tspan></text><text class="lb"><tspan x="2752.7" y="1138">Yes</tspan></text><text class="lb"><tspan x="2856.4" y="257">No</tspan></text><text class="lb"><tspan x="2856.4" y="426">No</tspan></text><text class="lb"><tspan x="2856.4" y="592">No</tspan></text><text class="lb"><tspan x="2856.6" y="759">No</tspan></text><text class="lb"><tspan x="2923.3" y="345">Yes</tspan></text><text class="lb"><tspan x="2923.3" y="505">Yes</tspan></text><text class="lb"><tspan x="2923.3" y="666">Yes</tspan></text><text class="lb"><tspan x="2923.3" y="849">Yes</tspan></text>
</g>

<g id="goal-chart-nodes">
<g id="goal-title"><rect x="2696.4" y="76.6" width="279.6" height="43.4" fill="#662d91"/><text font-size="17" style="fill:#fff" x="2836" y="104" textLength="232" lengthAdjust="spacingAndGlyphs">SETTING THE SEARCH GOAL</text></g>
<g id="g-start"><ellipse cx="2468" cy="174" rx="78" ry="30.5" fill="#7a7a7a"/><text class="w14" x="2470" y="179">Set search goal</text></g>
<g id="g1" transform="translate(2659.3,173.5)"><use href="#dG"/><text class="y14"><tspan x="0" y="-10.4">Make the</tspan><tspan x="0" y="7">search</tspan><tspan x="0" y="22.8">trickier?</tspan></text></g>
<g id="g2" transform="translate(2659.3,349)"><use href="#dG"/><text class="y14"><tspan x="0" y="-2">Change the</tspan><tspan x="0" y="14">find?</tspan></text></g>
<g id="g3" transform="translate(2659.3,514.7)"><use href="#dG"/><text class="y14"><tspan x="0" y="-2">Change the</tspan><tspan x="0" y="14">hide?</tspan></text></g>
<g id="g4" transform="translate(2659.5,674.3)"><use href="#dG"/><text class="y14"><tspan x="0" y="-2">Change the</tspan><tspan x="0" y="15">duration?</tspan></text></g>
<g id="g5" transform="translate(2659.5,853.8)"><use href="#dG"/><text class="y14"><tspan x="0" y="-1.5">Change the</tspan><tspan x="0" y="14.5">search area?</tspan></text></g>
<g id="g6" transform="translate(2659.5,980.5)"><use href="#dG"/><text class="y14"><tspan x="0" y="-10">Increase</tspan><tspan x="0" y="7">independence</tspan><tspan x="0" y="23">?</tspan></text></g>
<g id="g7" transform="translate(2659.5,1141.2)"><use href="#dG"/><text class="y14"><tspan x="0" y="-1.5">Increase</tspan><tspan x="0" y="14">teamwork?</tspan></text></g>
<g id="g8" transform="translate(2450,980.5)"><use href="#dG"/><text class="y14"><tspan x="0" y="-1">Change the</tspan><tspan x="0" y="14.5">relationship?</tspan></text></g>
<g id="g9" transform="translate(2845,349)"><use href="#dG"/><text class="y14"><tspan x="0" y="-2">Change the</tspan><tspan x="0" y="14">find?</tspan></text></g>
<g id="g10" transform="translate(2845,514.7)"><use href="#dG"/><text class="y14"><tspan x="0" y="-2">Change the</tspan><tspan x="0" y="14">hide?</tspan></text></g>
<g id="g11" transform="translate(2845.4,674.3)"><use href="#dG"/><text class="y14"><tspan x="0" y="-2">Change the</tspan><tspan x="0" y="15">duration?</tspan></text></g>
<g id="g12" transform="translate(2845.4,853.8)"><use href="#dG"/><text class="y14"><tspan x="0" y="-1.5">Change the</tspan><tspan x="0" y="14.5">search area?</tspan></text></g>
<g id="g13" transform="translate(2450.2,270)"><use href="#rG"/><text class="w14"><tspan x="0" y="-1">Increase</tspan><tspan x="0" y="15">Scent Picture</tspan></text></g>
<g id="g14" transform="translate(2450.2,349)"><use href="#rG"/><text class="w14"><tspan x="0" y="-1">Decrease</tspan><tspan x="0" y="15">Distractions</tspan></text></g>
<g id="g15" transform="translate(2450.2,420)"><use href="#rG"/><text class="w14"><tspan x="0" y="-1">Hide Height:</tspan><tspan x="0" y="15">Nose-floor</tspan></text></g>
<g id="g16" transform="translate(2450.2,492)"><use href="#rG"/><text class="w14"><tspan x="0" y="-1">Increase Ease</tspan><tspan x="0" y="15">of Access</tspan></text></g>
<g id="g17" transform="translate(2450.2,564)"><use href="#rG"/><text class="w14"><tspan x="0" y="6">More air flow</tspan></text></g>
<g id="g18" transform="translate(2450.2,643.6)"><use href="#rG"/><text class="w14"><tspan x="0" y="-1">Free search</tspan><tspan x="0" y="15">only</tspan></text></g>
<g id="g19" transform="translate(2450.2,722)"><use href="#rG"/><text class="w14"><tspan x="0" y="-9">One section</tspan><tspan x="0" y="7">of search plan</tspan><tspan x="0" y="23">only</tspan></text></g>
<g id="g20" transform="translate(2450.2,800.5)"><use href="#rG"/><text class="w14"><tspan x="0" y="7">Smaller area</tspan></text></g>
<g id="g21" transform="translate(2450.2,874.5)"><use href="#rG"/><text class="w14"><tspan x="0" y="7">Indoors</tspan></text></g>
<g id="g22" transform="translate(3049,161)"><use href="#rG"/><text class="w14"><tspan x="0" y="-1.5">Secondary</tspan><tspan x="0" y="14.4">find</tspan></text></g>
<g id="g23" transform="translate(3049,239)"><use href="#rG"/><text class="w14"><tspan x="0" y="6">More finds</tspan></text></g>
<g id="g24" transform="translate(3052,313.5)"><use href="#rG"/><text class="w14"><tspan x="0" y="-1.5">Decrease</tspan><tspan x="0" y="14.4">Scent Picture</tspan></text></g>
<g id="g25" transform="translate(3052,389)"><use href="#rG"/><text class="w14"><tspan x="0" y="-1.5">Increase</tspan><tspan x="0" y="14.4">Distractions</tspan></text></g>
<g id="g26" transform="translate(3052,461)"><use href="#rG"/><text class="w14"><tspan x="0" y="-9.4">Hide Height:</tspan><tspan x="0" y="6.5">Above nose –</tspan><tspan x="0" y="22.3">under paws</tspan></text></g>
<g id="g27" transform="translate(3052,531)"><use href="#rG"/><text class="w14"><tspan x="0" y="-9.4">Decrease</tspan><tspan x="0" y="6.5">Ease of</tspan><tspan x="0" y="22.3">Access</tspan></text></g>
<g id="g28" transform="translate(3052,599.6)"><use href="#rG"/><text class="w14"><tspan x="0" y="7">Less air flow</tspan></text></g>
<g id="g29" transform="translate(3051,676.4)"><use href="#rG"/><text class="w14"><tspan x="0" y="7">Clear the area</tspan></text></g>
<g id="g30" transform="translate(3051,755)"><use href="#rG"/><text class="w14"><tspan x="0" y="-1.5">Use search</tspan><tspan x="0" y="14.4">plan</tspan></text></g>
<g id="g31" transform="translate(3051,833.5)"><use href="#rG"/><text class="w14"><tspan x="0" y="7">Blank search</tspan></text></g>
<g id="g32" transform="translate(3051,905.5)"><use href="#rG"/><text class="w14"><tspan x="0" y="7">Larger area</tspan></text></g>
<g id="g33" transform="translate(3051,979)"><use href="#rG"/><text class="w14"><tspan x="0" y="7">Outdoors</tspan></text></g>
<text class="cp" x="2832.5" y="1183" style="text-anchor:start" textLength="307.5" lengthAdjust="spacingAndGlyphs">Copyright Pam Mackinnon, Talking Dogs Scentwork 2019</text>
</g>

<g id="goals-connectors">
<g class="c">
<path d="M1277.5 879H1268.5V906.5" marker-end="url(#a)"/><path d="M1389 879H1397.5V906.5" marker-end="url(#a)"/>
<path d="M1266.5 967.5V1007" marker-end="url(#a)"/><path d="M1266.5 1078.6V1100" marker-end="url(#a)"/><path d="M1266.5 1173.6V1193" marker-end="url(#a)"/>
<path d="M1396.2 967.5V1007" marker-end="url(#a)"/><path d="M1396.2 1078.6V1100" marker-end="url(#a)"/><path d="M1396.2 1173.6V1193" marker-end="url(#a)"/>
<path d="M1869.5 904V923.4H1595" marker-end="url(#a)"/>
<path d="M1925 886.3H2019.5V909.8" marker-end="url(#a)"/>
<path d="M1593.3 938.4H1799V943.8" marker-end="url(#a)"/>
<path d="M1593.3 938.4H1700" marker-end="url(#a)"/>
<path d="M1744 938.4V1356.5H1727.7" marker-end="url(#a)"/>
<path d="M1500.3 938.4H1483V1346H1499.3" marker-end="url(#a)"/><path d="M1483 1015.4H1499.3" marker-end="url(#a)"/>
<path d="M1546.7 966.6V971.4H1633.4" marker-end="url(#a)"/>
<path d="M1546.7 1042.8V1054.8" marker-end="url(#a)"/><path d="M1546.7 1126.5V1140.9" marker-end="url(#a)"/><path d="M1546.7 1213.8V1227" marker-end="url(#a)"/>
<path d="M1546.7 1373.7V1385.5" marker-end="url(#a)"/><path d="M1546.7 1457.5V1468.4" marker-end="url(#a)"/>
<path d="M1680 999.6V1013" marker-end="url(#a)"/><path d="M1679.3 1084V1094.6" marker-end="url(#a)"/>
<path d="M1678.8 1166.7V1290.8"/><path d="M1678.8 1188.9H1672.7" marker-end="url(#a)"/><path d="M1678.8 1212.4H1686.4" marker-end="url(#a)"/><path d="M1678.8 1254.6H1672.7" marker-end="url(#a)"/><path d="M1678.8 1290.8H1686.4" marker-end="url(#a)"/>
<path d="M1680.3 1377.4V1385" marker-end="url(#a)"/><path d="M1680.3 1457.5V1468.4" marker-end="url(#a)"/>
<path d="M1800.5 1000.4V1012.2" marker-end="url(#a)"/><path d="M1800.5 1084.2V1094.7" marker-end="url(#a)"/><path d="M1800.5 1168V1177" marker-end="url(#a)"/><path d="M1800 1249.6V1263" marker-end="url(#a)"/>
<path d="M1973.6 938.4H1879.7V1347.9H1896" marker-end="url(#a)"/><path d="M1946.5 938.4V978.7" marker-end="url(#a)"/><path d="M2067 938.4H2092.4V980" marker-end="url(#a)"/>
<path d="M1945 1038.5V1050.3" marker-end="url(#a)"/><path d="M1945 1121.8V1135" marker-end="url(#a)"/><path d="M1945 1208.4V1216.5" marker-end="url(#a)"/>
<path d="M1944 1376V1387.7" marker-end="url(#a)"/><path d="M1944 1459V1471" marker-end="url(#a)"/><path d="M1994 1507.3H2013.9" marker-end="url(#a)"/>
<path d="M2088.5 1039.8V1051.2" marker-end="url(#a)"/><path d="M2088.5 1123.2V1133.6" marker-end="url(#a)"/><path d="M2088.5 1206V1216" marker-end="url(#a)"/><path d="M2087 1288V1303" marker-end="url(#a)"/>
</g>
</g>

<g id="goals-nodes">
<g id="o-duration"><rect x="1277.5" y="862.4" width="111.5" height="33.6" fill="#5595ff" stroke="#9cc0fa"/><text font-size="11.6" style="fill:#fff" x="1334" y="883.5">DURATION</text></g>
<g id="o-goals"><rect x="1609" y="862.4" width="150" height="49" fill="#662d91" stroke="#8a63ad"/><text font-size="14.2" style="fill:#fff" x="1684.5" y="893">GOALS</text></g>
<g id="o-challenge"><rect x="1814" y="869.5" width="111" height="34.5" fill="#5595ff" stroke="#9cc0fa"/><text font-size="11.4" style="fill:#fff" x="1870" y="892">CHALLENGE</text></g>
<g id="o1" transform="translate(1267,940)"><use href="#rB"/><text class="w11"><tspan x="0" y="-1">Increase</tspan><tspan x="0" y="13">Duration</tspan></text></g>
<g id="o2" transform="translate(1396.5,940)"><use href="#rB"/><text class="w11"><tspan x="0" y="-1">Decrease</tspan><tspan x="0" y="13">Duration</tspan></text></g>
<g id="o3" transform="translate(1547,939)"><use href="#rB"/><text class="w11"><tspan x="0" y="-1">Increase</tspan><tspan x="0" y="13">Challenge</tspan></text></g>
<g id="o4" transform="translate(2020,939)"><use href="#rB"/><text class="w11"><tspan x="0" y="-1">Decrease</tspan><tspan x="0" y="13">Challenge</tspan></text></g>
<g id="o5" transform="translate(1680.7,972)"><use href="#rM"/><text class="w11"><tspan x="0" y="5">Hide Type</tspan></text></g>
<g id="o6" transform="translate(1800.4,973)"><use href="#rM"/><text class="w11"><tspan x="0" y="-1">Increase</tspan><tspan x="0" y="13">Distractions</tspan></text></g>
<g id="o7" transform="translate(1547,1015.5)"><use href="#rM"/><text class="w11"><tspan x="0" y="-1">Decrease</tspan><tspan x="0" y="13">Scent Picture</tspan></text></g>
<g id="o8" transform="translate(1547,1346)"><use href="#rM"/><text class="w11"><tspan x="0" y="-1">Add New Hide</tspan><tspan x="0" y="13">Height</tspan></text></g>
<g id="o9" transform="translate(1680.7,1350)"><use href="#rM"/><text class="w11"><tspan x="0" y="-8.4">Decrease</tspan><tspan x="0" y="6">Ease of</tspan><tspan x="0" y="20">Access</tspan></text></g>
<g id="o10" transform="translate(1945,1011)"><use href="#rM"/><text class="w11"><tspan x="0" y="-1">Increase</tspan><tspan x="0" y="13">Scent Picture</tspan></text></g>
<g id="o11" transform="translate(2088.5,1012)"><use href="#rM"/><text class="w11"><tspan x="0" y="-1">Decrease</tspan><tspan x="0" y="13">Distractions</tspan></text></g>
<g id="o12" transform="translate(1944,1348.5)"><use href="#rM"/><text class="w11"><tspan x="0" y="5">Hide Height</tspan></text></g>
<g id="o13" transform="translate(1266.5,1043.7)"><use href="#dT2"/><text class="t10"><tspan x="0" y="-2">increase</tspan><tspan x="0" y="10">search area</tspan></text></g>
<g id="o14" transform="translate(1266.5,1138.3)"><use href="#dT2"/><text class="t10"><tspan x="0" y="-2">increase no.</tspan><tspan x="0" y="10">of finds</tspan></text></g>
<g id="o15" transform="translate(1266.5,1231)"><use href="#dT2"/><text class="t10"><tspan x="0" y="-8.5">increase</tspan><tspan x="0" y="5">contents of</tspan><tspan x="0" y="16.5">search area</tspan></text></g>
<g id="o16" transform="translate(1396.2,1043.7)"><use href="#dT2"/><text class="t10"><tspan x="0" y="-2">decrease</tspan><tspan x="0" y="10">search area</tspan></text></g>
<g id="o17" transform="translate(1396.2,1138.3)"><use href="#dT2"/><text class="t10"><tspan x="0" y="-2">decrease no.</tspan><tspan x="0" y="10">of finds</tspan></text></g>
<g id="o18" transform="translate(1396.2,1231)"><use href="#dT2"/><text class="t10"><tspan x="0" y="-8.5">decrease</tspan><tspan x="0" y="5">contents of</tspan><tspan x="0" y="16.5">search area</tspan></text></g>
<g id="o19" transform="translate(1546.7,1091)"><use href="#dT"/><text class="t10"><tspan x="0" y="5">smaller article</tspan></text></g>
<g id="o20" transform="translate(1546.7,1178)"><use href="#dT"/><text class="t10"><tspan x="0" y="5">more layers</tspan></text></g>
<g id="o21" transform="translate(1546.7,1263.6)"><use href="#dT"/><text class="t10"><tspan x="0" y="-1.5">change article</tspan><tspan x="0" y="11.5">material</tspan></text></g>
<g id="o22" transform="translate(1546.7,1422)"><use href="#dT"/><text class="t10"><tspan x="0" y="5">under paws</tspan></text></g>
<g id="o23" transform="translate(1546.7,1505.5)"><use href="#dT"/><text class="t10"><tspan x="0" y="4">above head</tspan></text></g>
<g id="o24" transform="translate(1679.3,1048)"><use href="#dT"/><text class="t10"><tspan x="0" y="5">water</tspan></text></g>
<g id="o25" transform="translate(1679.3,1131)"><use href="#dT"/><text class="t10"><tspan x="0" y="5">buried</tspan></text></g>
<g id="o26" transform="translate(1800.7,1048.4)"><use href="#dT"/><text class="t10"><tspan x="0" y="5">outdoors</tspan></text></g>
<g id="o27" transform="translate(1800.7,1131.3)"><use href="#dT"/><text class="t10"><tspan x="0" y="-1.5">amongst</tspan><tspan x="0" y="11.5">people</tspan></text></g>
<g id="o28" transform="translate(1799.7,1213.8)"><use href="#dT"/><text class="t10"><tspan x="0" y="-1.5">amongst</tspan><tspan x="0" y="11.5">animals</tspan></text></g>
<g id="o29" transform="translate(1800.7,1300)"><use href="#dT"/><text class="t10"><tspan x="0" y="5">noisy area</tspan></text></g>
<g id="o30" transform="translate(1680.3,1421.7)"><use href="#dT"/><text class="t10"><tspan x="0" y="-1.5">needs handler</tspan><tspan x="0" y="11">assist</tspan></text></g>
<g id="o31" transform="translate(1679.3,1506)"><use href="#dT"/><text class="t10"><tspan x="0" y="-1.5">too high to</tspan><tspan x="0" y="11.5">reach</tspan></text></g>
<g id="o32" transform="translate(1945,1086.5)"><use href="#dT"/><text class="t10"><tspan x="0" y="5">larger article</tspan></text></g>
<g id="o33" transform="translate(1945,1173)"><use href="#dT"/><text class="t10"><tspan x="0" y="5">fewer layers</tspan></text></g>
<g id="o34" transform="translate(1945,1252.8)"><use href="#dT"/><text class="t10"><tspan x="0" y="5">air flow</tspan></text></g>
<g id="o35" transform="translate(1944,1424)"><use href="#dT"/><text class="t10"><tspan x="0" y="5">nose level</tspan></text></g>
<g id="o36" transform="translate(1944,1507.3)"><use href="#dT"/><text class="t10"><tspan x="0" y="-1.5">btwn nose and</tspan><tspan x="0" y="11">floor level</tspan></text></g>
<g id="o37" transform="translate(2065.4,1507.3)"><use href="#dT"/><text class="t10"><tspan x="0" y="5">floor level</tspan></text></g>
<g id="o38" transform="translate(2088.8,1087)"><use href="#dT"/><text class="t10"><tspan x="0" y="5">indoors</tspan></text></g>
<g id="o39" transform="translate(2088.8,1170.3)"><use href="#dT"/><text class="t10"><tspan x="0" y="-1.5">away from</tspan><tspan x="0" y="11">people</tspan></text></g>
<g id="o40" transform="translate(2087.8,1252.8)"><use href="#dT"/><text class="t10"><tspan x="0" y="-1.5">away from</tspan><tspan x="0" y="11.5">animals</tspan></text></g>
<g id="o41" transform="translate(2088.8,1338.4)"><use href="#dT"/><text class="t10"><tspan x="0" y="5">quiet area</tspan></text></g>
<g id="o42" transform="translate(1643.6,1189.8)"><use href="#cO"/><text class="t10"><tspan x="0" y="-1.5">grav</tspan><tspan x="0" y="11">el</tspan></text></g>
<g id="o43" transform="translate(1707.4,1228.3)"><use href="#cO"/><text class="t10"><tspan x="0" y="4.5">earth</tspan></text></g>
<g id="o44" transform="translate(1643.6,1251.4)"><use href="#cO"/><text class="t10"><tspan x="0" y="-1.5">shavi</tspan><tspan x="0" y="11">ngs</tspan></text></g>
<g id="o45" transform="translate(1712.5,1284.5)"><use href="#cO"/><text class="t10"><tspan x="0" y="4.5">sand</tspan></text></g>
<text class="cp" x="1190" y="1538" style="text-anchor:start" textLength="269.5" lengthAdjust="spacingAndGlyphs">Copyright Pam Mackinnon, Talking Dogs Scentwork 2019</text>
</g>

<g id="promo-card">
<g filter="url(#bl)" fill="#b0b0b0">
<rect x="2227" y="1250" width="14" height="1135"/>
<rect x="3384" y="1250" width="24" height="1135"/>
<path d="M2232 2372H3402L3408 2462Q2820 2386 2238 2462Z"/>
</g>
<rect x="2235" y="1242" width="1153" height="1137" fill="#fff"/>
<text class="b" x="2320.4" y="1365.5" font-size="58" style="text-anchor:start;fill:#43208e">Search Setting Solutions Printables</text>
<text class="pr" x="2303.7" y="1498.6">Make setting up the perfect search for</text>
<text class="pr" x="2303" y="1565.5">your scentwork team easy.</text>
<text class="pr" x="2303" y="1701.8">This pack of <tspan class="b">7</tspan> printables includes:</text>
<text class="pr" x="2379.4" y="1835.7">Guide to Setting Search Solutions</text>
<text class="pr" x="2379.4" y="1902.7">Skills Chart</text>
<text class="pr" x="2379.4" y="1968.8">Setting goals chart</text>
<text class="pr" x="2379.4" y="2035.8">Goals chart</text>
<text class="pr" x="2379.4" y="2102.7">Search scenario set-up sheets for</text>
<text class="pr" x="2379.4" y="2168.9">Foundation, Intermediate and</text>
<text class="pr" x="2379.4" y="2235.8">Advanced searches</text>
<use href="#pin" transform="translate(2325,1808)"/>
<use href="#pin" transform="translate(2325,1875.6)"/>
<use href="#pin" transform="translate(2325,1941.7)"/>
<use href="#pin" transform="translate(2325,2008.7)"/>
<use href="#pin" transform="translate(2325,2075)"/>
</g>
</svg>
